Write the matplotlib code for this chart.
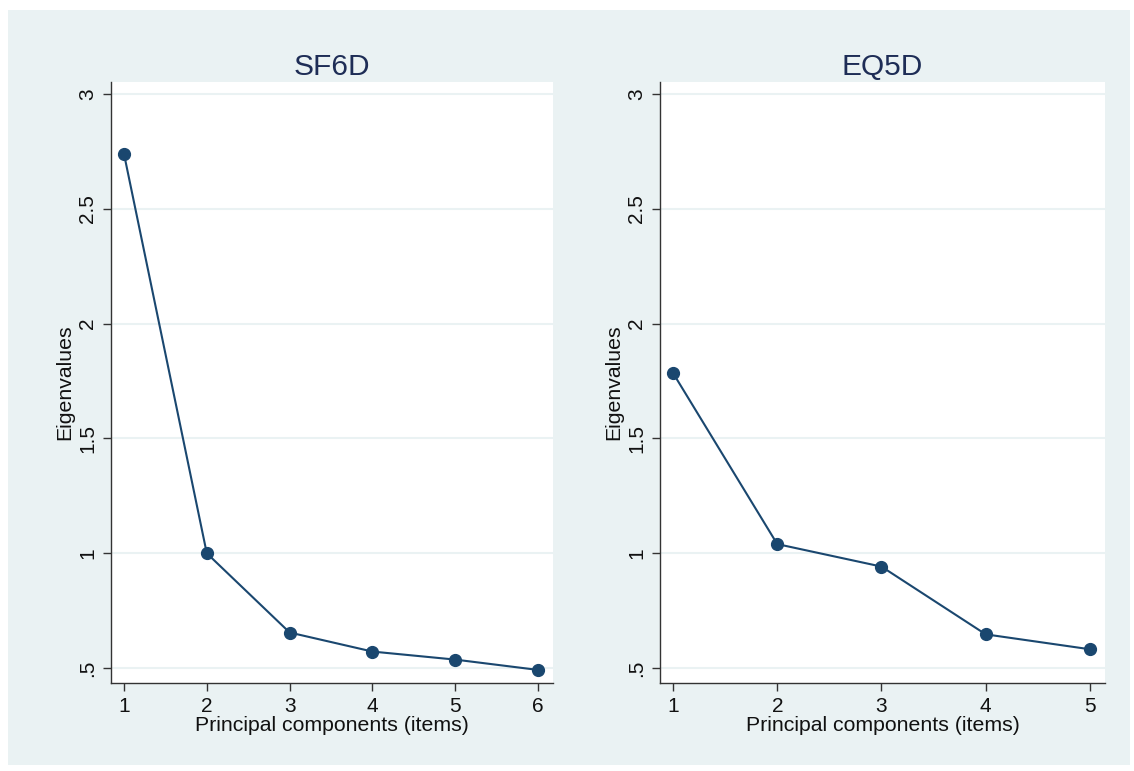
import matplotlib

matplotlib.use("Agg")
import matplotlib.pyplot as plt
from matplotlib.patches import Rectangle

plt.rcParams["font.family"] = ["Liberation Sans", "DejaVu Sans"]

# Data
sf6d_comp = [1, 2, 3, 4, 5, 6]
sf6d_eig = [2.74, 1.00, 0.655, 0.572, 0.537, 0.492]
eq5d_comp = [1, 2, 3, 4, 5]
eq5d_eig = [1.785, 1.04, 0.942, 0.647, 0.582]

y_ticks = [0.5, 1, 1.5, 2, 2.5, 3]
y_tick_labels = [".5", "1", "1.5", "2", "2.5", "3"]

BG = "#EAF2F3"
NAVY = "#1A476F"
TITLE = "#1E2D56"

fig = plt.figure(figsize=(11.34, 7.71), dpi=100, facecolor="white")
fig.patches.append(Rectangle((0.007, 0.008), 0.9895, 0.979,
                             transform=fig.transFigure, facecolor=BG,
                             edgecolor="none", zorder=-10))

panels = [
    ("SF6D", sf6d_comp, sf6d_eig, [0.0979, 0.1141, 0.3898, 0.7795], (0.844, 6.18)),
    ("EQ5D", eq5d_comp, eq5d_eig, [0.582, 0.1141, 0.3924, 0.7795], (0.875, 5.144)),
]

for title, x, y, pos, xlim in panels:
    ax = fig.add_axes(pos)
    ax.set_facecolor("white")
    ax.plot(x, y, color=NAVY, linewidth=1.5, marker="o", markersize=8.5,
            markerfacecolor=NAVY, markeredgecolor=NAVY, zorder=3)
    ax.set_xlim(*xlim)
    ax.set_ylim(0.435, 3.052)
    ax.set_xticks(x)
    ax.set_yticks(y_ticks)
    ax.set_yticklabels(y_tick_labels, rotation=90, va="center")
    ax.yaxis.grid(True, color=BG, linewidth=1.5)
    ax.set_axisbelow(True)
    for s in ("top", "right"):
        ax.spines[s].set_visible(False)
    for s in ("left", "bottom"):
        ax.spines[s].set_color("#333333")
        ax.spines[s].set_linewidth(1.0)
    ax.tick_params(direction="out", length=6, width=1, color="#333333",
                   labelsize=15, labelcolor="#111111", pad=4)
    ax.set_xlabel("Principal components (items)", fontsize=15.3,
                  color="#111111", labelpad=0)
    ax.set_ylabel("Eigenvalues", fontsize=15.3, color="#111111", labelpad=3)
    ax.set_title(title, fontsize=21.5, color=TITLE, pad=5)

fig.savefig("out.png", dpi=100, facecolor="white")
